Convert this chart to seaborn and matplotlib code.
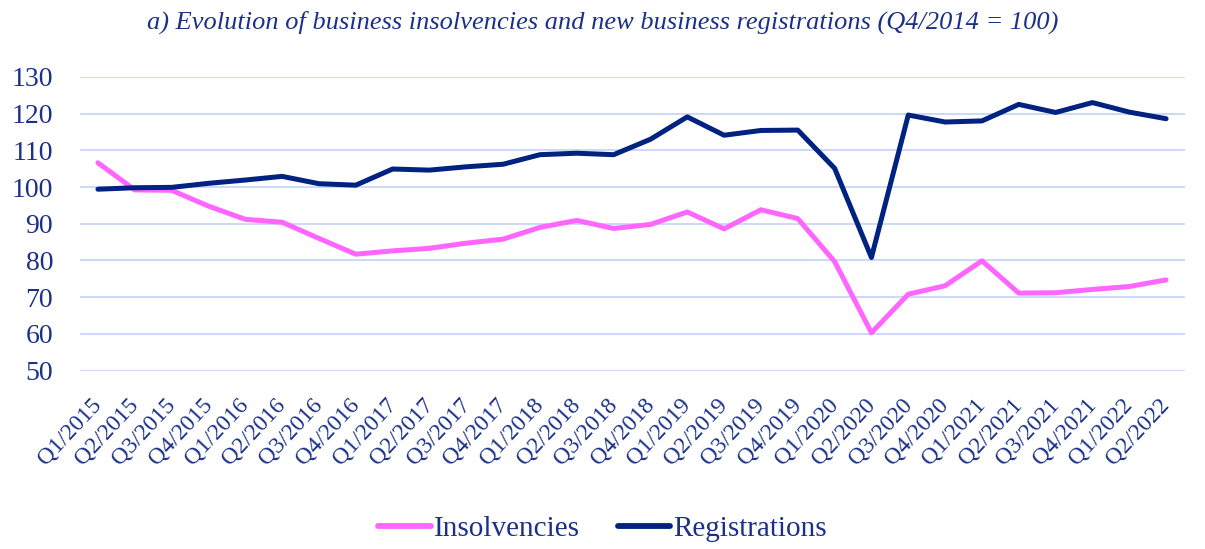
import matplotlib
matplotlib.use("Agg")
import matplotlib.pyplot as plt
import pandas as pd
import seaborn as sns

quarters = ["Q1/2015", "Q2/2015", "Q3/2015", "Q4/2015",
            "Q1/2016", "Q2/2016", "Q3/2016", "Q4/2016",
            "Q1/2017", "Q2/2017", "Q3/2017", "Q4/2017",
            "Q1/2018", "Q2/2018", "Q3/2018", "Q4/2018",
            "Q1/2019", "Q2/2019", "Q3/2019", "Q4/2019",
            "Q1/2020", "Q2/2020", "Q3/2020", "Q4/2020",
            "Q1/2021", "Q2/2021", "Q3/2021", "Q4/2021",
            "Q1/2022", "Q2/2022"]

insolvencies = [106.6, 99.2, 99.1, 94.8, 91.2, 90.4, 86.0, 81.7,
                82.6, 83.3, 84.7, 85.8, 89.0, 90.9, 88.7, 89.8,
                93.2, 88.6, 93.8, 91.4, 79.7, 60.3, 70.8, 73.1,
                79.9, 71.1, 71.2, 72.1, 72.9, 74.7]

registrations = [99.4, 99.8, 99.9, 101.0, 101.9, 102.9, 100.9, 100.5,
                 104.9, 104.6, 105.5, 106.2, 108.8, 109.2, 108.8, 113.0,
                 119.1, 114.1, 115.4, 115.5, 105.1, 80.8, 119.6, 117.7,
                 118.0, 122.5, 120.3, 123.0, 120.4, 118.6]

navy = "#002281"
text_col = "#1b3088"
pink = "#ff66ff"
grid_col = "#c8d5f7"

df = pd.DataFrame({"quarter": quarters,
                   "Insolvencies": insolvencies,
                   "Registrations": registrations})
df["pos"] = range(len(df))
long = df.melt(id_vars=["quarter", "pos"], var_name="series", value_name="value")

sns.set_style("white")
plt.rcParams["font.family"] = ["Liberation Serif", "DejaVu Serif"]

fig, ax = plt.subplots(figsize=(12.05, 5.49), dpi=100)
fig.subplots_adjust(left=0.066, right=0.983, top=0.86, bottom=0.325)

sns.lineplot(data=long, x="pos", y="value", hue="series",
             palette={"Insolvencies": pink, "Registrations": navy},
             linewidth=3.6, ax=ax, sort=False)

ax.set_xlim(-0.5, len(quarters) - 0.5)
ax.set_ylim(50, 130)
ax.set_yticks(range(50, 131, 10))
ax.set_xticks(range(len(quarters)))
ax.set_xticklabels(quarters, rotation=47, ha="right", va="center",
                   rotation_mode="anchor")
ax.tick_params(axis="both", colors=text_col, length=0)
ax.tick_params(axis="y", labelsize=20, pad=19)
ax.tick_params(axis="x", labelsize=17, pad=22)
ax.set_xlabel("")
ax.set_ylabel("")
ax.yaxis.grid(True, color=grid_col, linewidth=1.3)
ax.set_axisbelow(True)
for s in ax.spines.values():
    s.set_visible(False)

fig.text(0.5, 1 - 22 / 549,
         "a) Evolution of business insolvencies and new business registrations (Q4/2014 = 100)",
         fontsize=19, style="italic", color=text_col, ha="center", va="center")

handles, labels = ax.get_legend_handles_labels()
for h in handles:
    h.set_linewidth(4.2)
leg = fig.legend(handles, labels, loc="center", bbox_to_anchor=(0.5, 1 - 529 / 549),
                 ncol=2, frameon=False, fontsize=21, handlelength=1.8,
                 handletextpad=0.1, columnspacing=1.3)
for t in leg.get_texts():
    t.set_color(text_col)
ax.get_legend().remove()

fig.savefig("out.png", dpi=100)
